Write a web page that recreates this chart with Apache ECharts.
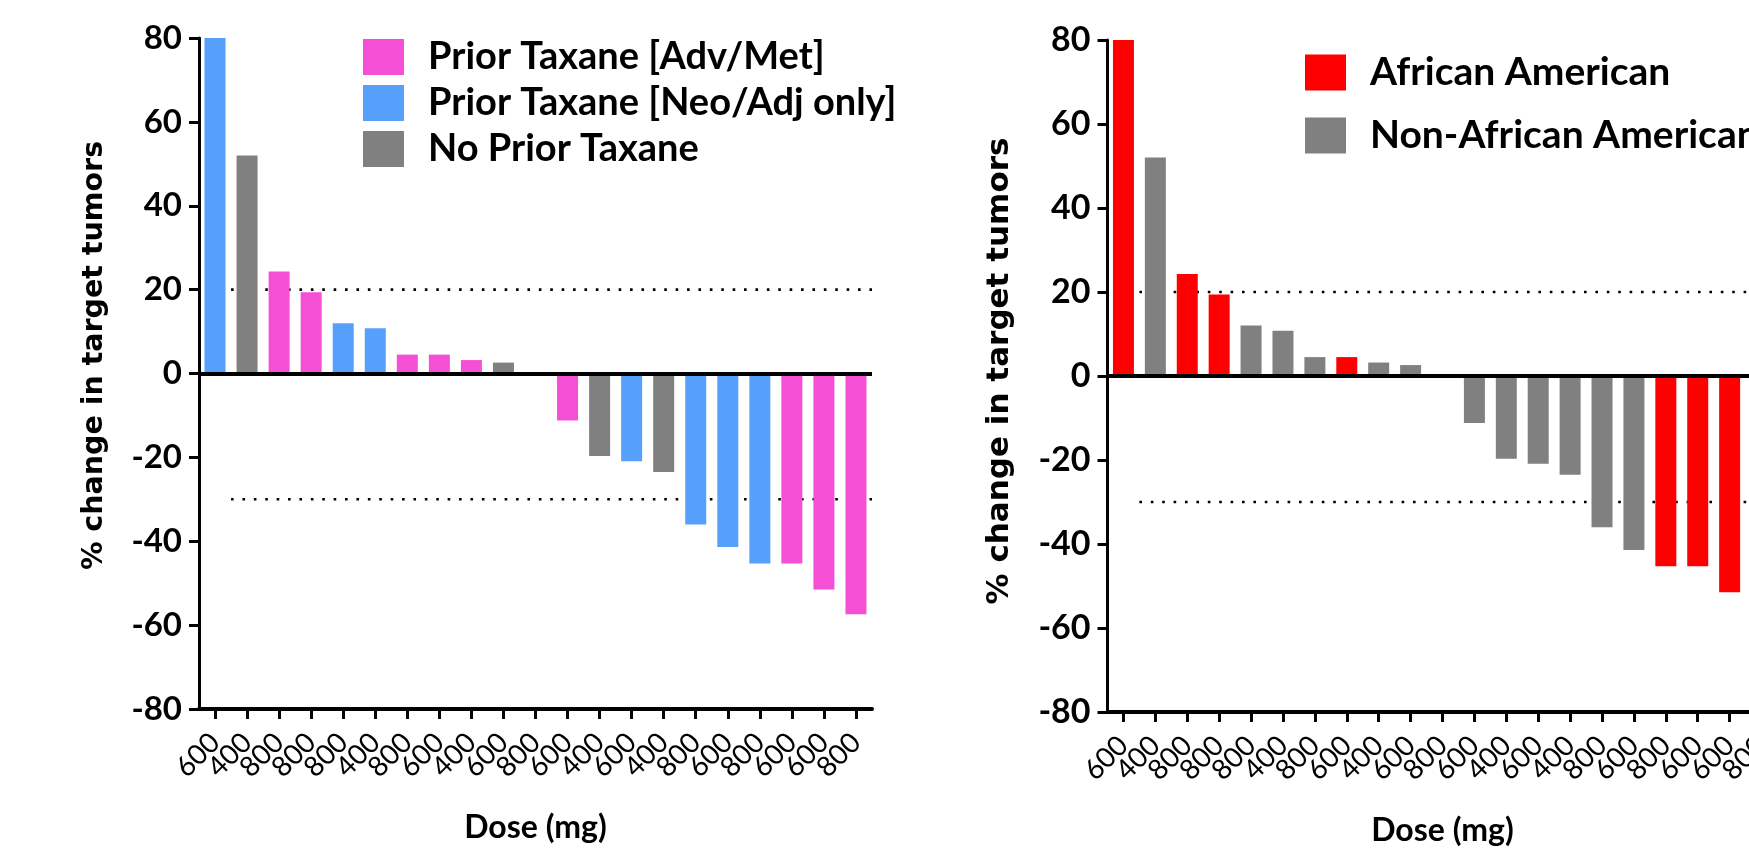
<!DOCTYPE html>
<html><head><meta charset="utf-8">
<script src="https://cdn.jsdelivr.net/npm/echarts@6/dist/echarts.min.js"></script>
<style>html,body{margin:0;padding:0;background:#fff}#c{width:1749px;height:853px}</style>
</head><body><div id="c"></div>
<script>
// ---- data ----
const doses = ['600','400','800','800','800','400','800','600','400','600','800','600','400','600','400','800','600','800','600','600','800'];
const changePct = [80, 52, 24.3, 19.4, 12, 10.8, 4.5, 4.5, 3.2, 2.6, 0, -11.2, -19.7, -20.9, -23.5, -36, -41.4, -45.3, -45.3, -51.5, -57.4];
const taxaneNames = ['Prior Taxane [Adv/Met]', 'Prior Taxane [Neo/Adj only]', 'No Prior Taxane'];
const taxaneGroup = [1, 2, 0, 0, 1, 1, 0, 0, 0, 2, 2, 0, 2, 1, 2, 1, 1, 1, 0, 0, 0];
const raceNames = ['African American', 'Non-African American'];
const raceGroup = [0, 1, 0, 0, 1, 1, 1, 0, 1, 1, 1, 1, 1, 1, 1, 1, 1, 0, 0, 0, 0];
const thresholds = [20, -30];
const yMin = -80, yMax = 80, yStep = 20;

// ---- styles ----
const taxaneColors = ['#f54fd6', '#56a0fb', '#808080'];
const raceColors = ['#ff0000', '#808080'];
const UI = 'Lato, "Open Sans", sans-serif';

function barSeries(names, colors, groups, gi) {
  return names.map((n, k) => {
    const s = {
      name: n, type: 'bar', xAxisIndex: gi, yAxisIndex: gi,
      barWidth: 21, barGap: '-100%', z: 3,
      itemStyle: { color: colors[k] },
      data: changePct.map((v, i) => groups[i] === k ? v : '-')
    };
    if (k === 0) {
      s.markLine = {
        silent: true, symbol: 'none', z: 6, label: { show: false },
        lineStyle: { color: '#000', width: 4, type: 'solid' },
        data: [{ yAxis: 0 }]
      };
    }
    return s;
  });
}
function dotSeries(gi) {
  return thresholds.map(t => ({
    type: 'line', xAxisIndex: gi + 2, yAxisIndex: gi, silent: true, z: 1,
    symbol: 'none', animation: false,
    lineStyle: { color: '#000', width: 2.6, type: [2.6, 8.8] },
    data: [[0.5, t], [doses.length - 0.5, t]]
  }));
}
function yAx(gi, fs, nfs, gap, shift) {
  return {
    type: 'value', gridIndex: gi, min: yMin, max: yMax, interval: yStep,
    axisLine: { show: true, onZero: false, lineStyle: { color: '#000', width: 3 } },
    axisTick: { show: true, length: 10, lineStyle: { color: '#000', width: 3 } },
    splitLine: { show: false },
    axisLabel: { color: '#000', fontFamily: UI, fontWeight: 'bold', fontSize: fs, margin: 17 },
    name: '% change in target tumors', nameLocation: 'middle', nameGap: gap,
    nameTextStyle: { fontFamily: '"DejaVu Sans", sans-serif', fontWeight: 'bold', fontSize: nfs, color: '#000',
      padding: [0, 0, 0, shift] }
  };
}
function xAx(gi, fs) {
  return {
    type: 'category', gridIndex: gi, data: doses,
    axisLine: { show: true, onZero: false, lineStyle: { color: '#000', width: 4 } },
    axisTick: { show: true, alignWithLabel: true, length: 10, lineStyle: { color: '#000', width: 3 } },
    splitLine: { show: false },
    axisLabel: { interval: 0, rotate: 45, fontSize: fs, margin: 29, color: '#000', fontFamily: UI },
    name: 'Dose (mg)', nameLocation: 'middle', nameGap: 103,
    nameTextStyle: { fontFamily: UI, fontWeight: 'bold', fontSize: 32, color: '#000' }
  };
}
function hiddenX(gi) {
  return { type: 'value', gridIndex: gi, min: -0.5, max: doses.length - 0.5, show: false,
    axisLine: { onZero: false }, splitLine: { show: false } };
}
function legend(names, left, top, gap, fs) {
  return {
    data: names, left: left, top: top, orient: 'vertical', icon: 'rect',
    itemWidth: 41, itemHeight: 36, itemGap: gap, selectedMode: false,
    textStyle: { fontFamily: UI, fontWeight: 'bold', fontSize: fs, color: '#000', padding: [0, 0, 0, 19] }
  };
}

const chart = echarts.init(document.getElementById('c'), null, { renderer: 'canvas' });
chart.setOption({
  animation: false,
  backgroundColor: '#fff',
  grid: [
    { left: 199, top: 38, width: 673, height: 671, outerBoundsMode: 'none', containLabel: false },
    { left: 1107.5, top: 40, width: 670, height: 672, outerBoundsMode: 'none', containLabel: false }
  ],
  legend: [legend(taxaneNames, 358, 33, 8, 38), legend(raceNames, 1300, 48, 24, 39)],
  xAxis: [xAx(0, 28), xAx(1, 28), hiddenX(0), hiddenX(1)],
  yAxis: [yAx(0, 33, 28.5, 90, 36), yAx(1, 34, 31, 92, 10)],
  series: [].concat(
    barSeries(taxaneNames, taxaneColors, taxaneGroup, 0),
    barSeries(raceNames, raceColors, raceGroup, 1),
    dotSeries(0), dotSeries(1)
  )
});
</script>
</body></html>
